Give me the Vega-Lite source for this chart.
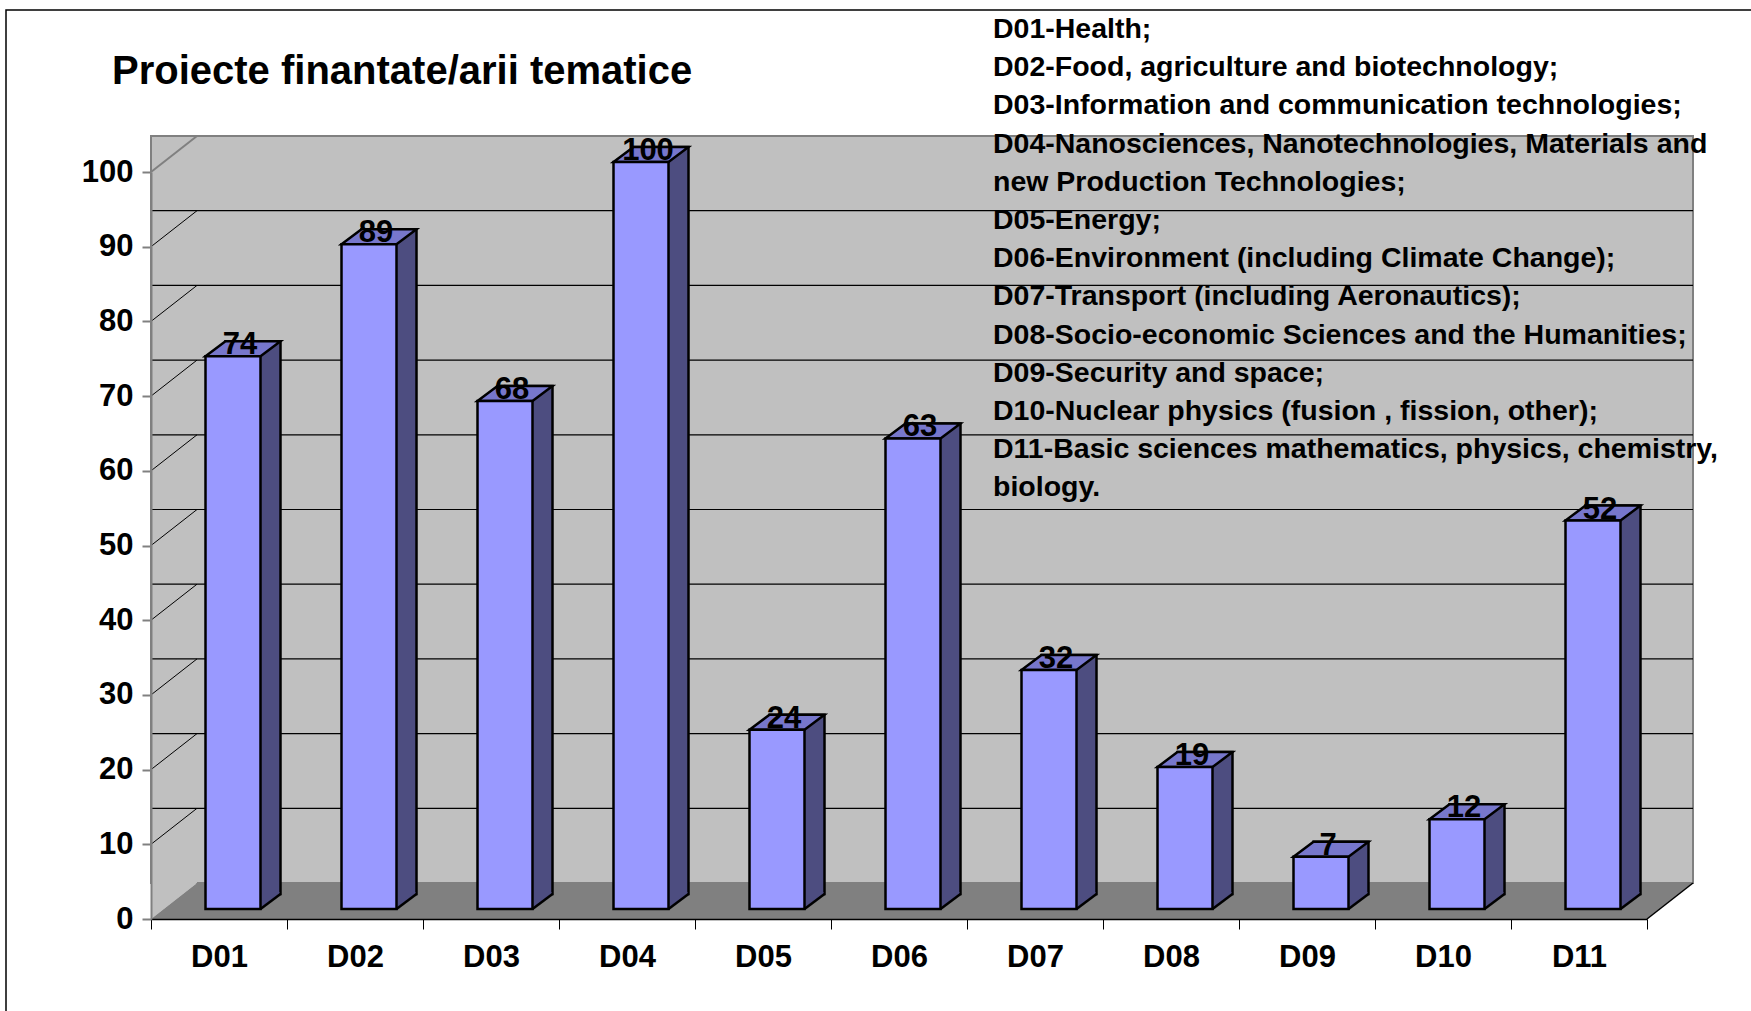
{
  "$schema": "https://vega.github.io/schema/vega-lite/v6.json",
  "width": 1496,
  "height": 747,
  "autosize": {"type": "none"},
  "padding": {"left": 151, "top": 172, "right": 104, "bottom": 92},
  "background": "white",
  "config": {"view": {"stroke": null}, "font": "Liberation Sans"},
  "title": {
    "text": "Proiecte finantate/arii tematice",
    "anchor": "start",
    "frame": "group",
    "font": "Liberation Sans",
    "fontSize": 40,
    "fontWeight": "bold",
    "color": "black",
    "dx": -39,
    "dy": 85,
    "offset": 0
  },
  "datasets": {
    "bars": [
      {"area": "D01", "projects": 74},
      {"area": "D02", "projects": 89},
      {"area": "D03", "projects": 68},
      {"area": "D04", "projects": 100},
      {"area": "D05", "projects": 24},
      {"area": "D06", "projects": 63},
      {"area": "D07", "projects": 32},
      {"area": "D08", "projects": 19},
      {"area": "D09", "projects": 7},
      {"area": "D10", "projects": 12},
      {"area": "D11", "projects": 52}
    ],
    "grid": [
      {"v": 10}, {"v": 20}, {"v": 30}, {"v": 40}, {"v": 50},
      {"v": 60}, {"v": 70}, {"v": 80}, {"v": 90}
    ],
    "legend": [
      {"text": "D01-Health;\nD02-Food, agriculture and biotechnology;\nD03-Information and communication technologies;\nD04-Nanosciences, Nanotechnologies, Materials and\nnew Production Technologies;\nD05-Energy;\nD06-Environment (including Climate Change);\nD07-Transport (including Aeronautics);\nD08-Socio-economic Sciences and the Humanities;\nD09-Security and space;\nD10-Nuclear physics (fusion , fission, other);\nD11-Basic sciences  mathematics, physics, chemistry,\nbiology."}
    ],
    "one": [{}]
  },
  "data": {"name": "bars"},
  "layer": [
    {
      "data": {"name": "one"},
      "mark": {"type": "point", "shape": "M0,1100 L0,0 L2000,0", "size": 4, "filled": false, "stroke": "black", "strokeWidth": 1.5, "opacity": 1, "xOffset": -145, "yOffset": -162},
      "encoding": {
        "x": {"datum": "D01", "bandPosition": 0, "type": "nominal"},
        "y": {"datum": 100, "type": "quantitative"}
      }
    },
    {
      "data": {"name": "one"},
      "mark": {"type": "rect", "fill": "#C0C0C0", "stroke": "#808080", "strokeWidth": 2, "xOffset": 46, "x2Offset": 46, "yOffset": -36, "y2Offset": -36},
      "encoding": {
        "y": {"datum": 100, "type": "quantitative", "scale": {"domain": [0, 100], "nice": false, "zero": true}, "axis": {"orient": "left", "values": [0, 10, 20, 30, 40, 50, 60, 70, 80, 90, 100], "domainColor": "#808080", "domainWidth": 2, "tickColor": "#808080", "tickWidth": 2, "tickSize": 9, "labelFontSize": 31, "labelFontWeight": "bold", "labelColor": "black", "labelPadding": 9, "labelFont": "Liberation Sans", "grid": false, "title": null, "zindex": 1}},
        "y2": {"datum": 0}
      }
    },
    {
      "data": {"name": "one"},
      "mark": {"type": "point", "shape": "M0,0 L0,-747 L46,-783 L46,-36 Z", "size": 4, "filled": true, "fill": "#C0C0C0", "strokeWidth": 0, "opacity": 1},
      "encoding": {
        "x": {"datum": "D01", "bandPosition": 0, "type": "nominal"},
        "y": {"datum": 0, "type": "quantitative"}
      }
    },
    {
      "data": {"name": "grid"},
      "mark": {"type": "rule", "stroke": "black", "strokeWidth": 1.2, "xOffset": 46, "x2Offset": 46, "yOffset": -36},
      "encoding": {
        "y": {"field": "v", "type": "quantitative"}
      }
    },
    {
      "data": {"name": "grid"},
      "mark": {"type": "point", "shape": "M0,0 L46,-36", "size": 4, "filled": false, "stroke": "black", "strokeWidth": 1, "opacity": 1},
      "encoding": {
        "x": {"datum": "D01", "bandPosition": 0, "type": "nominal"},
        "y": {"field": "v", "type": "quantitative"}
      }
    },
    {
      "data": {"name": "one"},
      "mark": {"type": "point", "shape": "M0,0 L46,-36", "size": 4, "filled": false, "stroke": "#808080", "strokeWidth": 2, "opacity": 1},
      "encoding": {
        "x": {"datum": "D01", "bandPosition": 0, "type": "nominal"},
        "y": {"datum": 100, "type": "quantitative"}
      }
    },
    {
      "data": {"name": "one"},
      "mark": {"type": "point", "shape": "M0,0 L46,-36 L1542,-36 L1496,0 Z", "size": 4, "filled": true, "fill": "#808080", "strokeWidth": 0, "opacity": 1},
      "encoding": {
        "x": {"datum": "D01", "bandPosition": 0, "type": "nominal"},
        "y": {"datum": 0, "type": "quantitative"}
      }
    },
    {
      "data": {"name": "one"},
      "mark": {"type": "point", "shape": "M0,0 L46,-36", "size": 4, "filled": false, "stroke": "black", "strokeWidth": 1.5, "opacity": 1},
      "encoding": {
        "x": {"datum": "D11", "bandPosition": 1, "type": "nominal"},
        "y": {"datum": 0, "type": "quantitative"}
      }
    },
    {
      "mark": {"type": "bar", "width": 55, "xOffset": 34, "yOffset": -25, "y2Offset": -25, "fill": "#4D4D80", "stroke": "black", "strokeWidth": 2.5},
      "encoding": {
        "x": {"field": "area", "type": "nominal", "sort": null, "scale": {"type": "band", "domain": ["D01", "D02", "D03", "D04", "D05", "D06", "D07", "D08", "D09", "D10", "D11"], "paddingInner": 0, "paddingOuter": 0}, "axis": {"orient": "bottom", "bandPosition": 0.5, "domainColor": "black", "domainWidth": 1.5, "tickColor": "black", "tickWidth": 1, "tickSize": 10, "tickBand": "extent", "labelAlign": "center", "labelBaseline": "top", "labelFontSize": 31, "labelFontWeight": "bold", "labelColor": "black", "labelFont": "Liberation Sans", "labelPadding": 13, "labelAngle": 0, "title": null, "zindex": 1}},
        "y": {"field": "projects", "type": "quantitative"},
        "y2": {"datum": 0}
      }
    },
    {
      "mark": {"type": "point", "shape": "M27.5,0 L46.5,-14.25 L46.5,-17 L25,-17 L25,0 Z", "size": 4, "filled": true, "fill": "#4D4D80", "strokeWidth": 0, "opacity": 1, "xOffset": 14, "yOffset": -10},
      "encoding": {
        "x": {"field": "area", "type": "nominal"},
        "y": {"datum": 0, "type": "quantitative"}
      }
    },
    {
      "mark": {"type": "point", "shape": "M27.5,0 L47.5,-15", "size": 4, "filled": false, "stroke": "black", "strokeWidth": 2.5, "opacity": 1, "xOffset": 14, "yOffset": -10},
      "encoding": {
        "x": {"field": "area", "type": "nominal"},
        "y": {"datum": 0, "type": "quantitative"}
      }
    },
    {
      "mark": {"type": "point", "shape": "M-27.5,0 L27.5,0 L47.5,-15 L-7.5,-15 Z", "size": 4, "filled": true, "fill": "#7777CC", "stroke": "black", "strokeWidth": 2.5, "opacity": 1, "xOffset": 14, "yOffset": -10},
      "encoding": {
        "x": {"field": "area", "type": "nominal"},
        "y": {"field": "projects", "type": "quantitative"}
      }
    },
    {
      "mark": {"type": "bar", "width": 55, "xOffset": 14, "yOffset": -10, "y2Offset": -10, "fill": "#9999FF", "stroke": "black", "strokeWidth": 2.5},
      "encoding": {
        "x": {"field": "area", "type": "nominal"},
        "y": {"field": "projects", "type": "quantitative"},
        "y2": {"datum": 0}
      }
    },
    {
      "mark": {"type": "text", "font": "Liberation Sans", "fontSize": 31, "fontWeight": "bold", "color": "black", "align": "center", "baseline": "alphabetic", "xOffset": 21, "yOffset": -12},
      "encoding": {
        "x": {"field": "area", "type": "nominal"},
        "y": {"field": "projects", "type": "quantitative"},
        "text": {"field": "projects", "type": "quantitative"}
      }
    },
    {
      "data": {"name": "legend"},
      "mark": {"type": "text", "font": "Liberation Sans", "fontSize": 28.5, "fontWeight": "bold", "color": "black", "align": "left", "baseline": "alphabetic", "lineBreak": "\n", "lineHeight": 38.2, "xOffset": 26, "yOffset": -134},
      "encoding": {
        "x": {"datum": "D07", "bandPosition": 0, "type": "nominal"},
        "y": {"datum": 100, "type": "quantitative"},
        "text": {"field": "text", "type": "nominal"}
      }
    }
  ]
}
